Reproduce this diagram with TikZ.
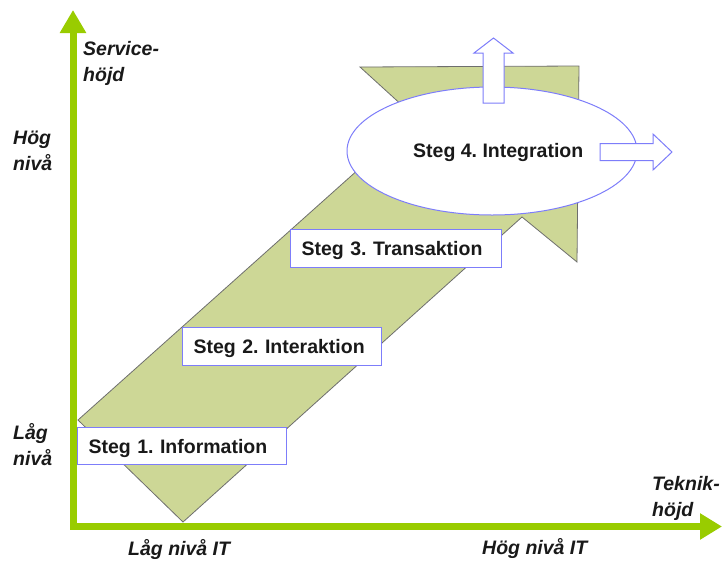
\documentclass[tikz,border=0pt]{standalone}
\usepackage{fontspec}
\setmainfont{Liberation Sans}
\usetikzlibrary{arrows.meta,shapes.geometric}
\definecolor{axisgreen}{RGB}{153,204,0}
\definecolor{shapefill}{RGB}{205,215,150}
\definecolor{shapeline}{RGB}{110,110,110}
\definecolor{boxblue}{RGB}{125,125,250}
\definecolor{txtcol}{RGB}{25,25,25}
\frenchspacing
\tikzset{
  axislabel/.style={anchor=base west, inner sep=0pt, text=txtcol, font=\bfseries\itshape\fontsize{19.5}{26}\selectfont},
  stepbox/.style={draw=boxblue, line width=1pt, fill=white, anchor=north west, inner xsep=11pt, inner ysep=0pt,
    text height=14pt, text depth=0pt, align=left, text=txtcol, font=\bfseries\fontsize{19.5}{24}\selectfont},
  blockarrow/.style={draw=boxblue, line width=1pt, fill=white},
  axisline/.style={axisgreen, line width=7pt, line join=miter},
}
\begin{document}
\begin{tikzpicture}[x=1pt,y=-1pt]
\useasboundingbox (0,0) rectangle (722,560);

% big arrow shape
\draw[fill=shapefill, draw=shapeline, line width=0.8pt, line join=miter]
  (78,420) -- (416,118) -- (360,67) -- (579,66) -- (577,262) -- (522,217) -- (183,522) -- cycle;

% axes
\coordinate (ytip) at (73,10);
\coordinate (origin) at (73,526.5);
\coordinate (xtip) at (722,526.5);
\draw[axisline, {Triangle[width=25pt,length=23pt]}-{Triangle[width=25pt,length=22pt]}] (ytip) -- (origin) -- (xtip);

% step boxes
\node[stepbox, minimum width=209pt, minimum height=37pt, text width=187pt] (s1) at (77,427) {Steg 1. Information};
\node[stepbox, minimum width=199pt, minimum height=38pt, text width=177pt] (s2) at (182,327) {Steg 2. Interaktion};
\node[stepbox, minimum width=211pt, minimum height=38pt, text width=189pt] (s3) at (290,229) {Steg 3. Transaktion};

% ellipse
\node[ellipse, draw=boxblue, line width=1pt, fill=white, minimum width=290pt, minimum height=128pt, inner sep=0pt] (s4) at (492,151) {};
\node[anchor=base west, inner sep=0pt, text=txtcol, font=\bfseries\fontsize{19.5}{24}\selectfont] (s4text) at (413,157) {Steg 4. Integration};

% block arrows
\draw[blockarrow] (483,103) -- (483,53) -- (474,53) -- (493.5,38) -- (513,53) -- (504,53) -- (504,103) -- cycle;
\draw[blockarrow] (600,143.5) -- (653,143.5) -- (653,134) -- (672,152) -- (653,170) -- (653,160.5) -- (600,160.5) -- cycle;

% axis labels
\node[axislabel] (serv1) at (83,55) {Service-};
\node[axislabel] (serv2) at (83,81) {höjd};
\node[axislabel] (hog1) at (13,144) {Hög};
\node[axislabel] (hog2) at (13,170) {nivå};
\node[axislabel] (lag1) at (13,439) {Låg};
\node[axislabel] (lag2) at (13,465) {nivå};
\node[axislabel] (tek1) at (652,490) {Teknik-};
\node[axislabel] (tek2) at (652,516) {höjd};
\node[axislabel] (lagit) at (128,555) {Låg nivå IT};
\node[axislabel] (hogit) at (482,554) {Hög nivå IT};
\end{tikzpicture}
\end{document}
